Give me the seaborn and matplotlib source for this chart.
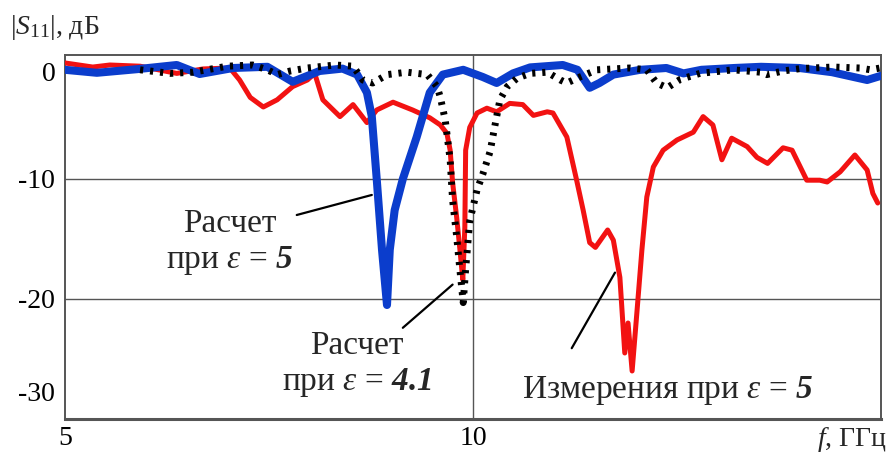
import numpy as np
import pandas as pd
import matplotlib
matplotlib.use("Agg")
import matplotlib.pyplot as plt
import matplotlib.transforms as mtransforms
import seaborn as sns

# ---- data ----
blue_f = [5.0, 5.39, 5.88, 6.37, 6.65, 7.06, 7.48, 7.79, 8.12, 8.40, 8.58, 8.70, 8.76,
          8.82, 8.885, 8.946, 8.98, 9.04, 9.14, 9.31, 9.47, 9.63, 9.88, 10.12, 10.29,
          10.49, 10.70, 11.10, 11.28, 11.43, 11.55, 11.72, 12.05, 12.37, 12.58, 12.80,
          13.20, 13.53, 14.00, 14.40, 14.83, 15.0]
blue_v = [-0.9, -1.15, -0.85, -0.5, -1.25, -0.75, -0.65, -1.9, -1.0, -0.8, -1.3, -2.8, -4.8,
          -10.0, -15.9, -20.5, -15.9, -12.6, -10.0, -6.5, -2.8, -1.3, -0.9, -1.5, -2.0,
          -1.2, -0.7, -0.5, -0.9, -2.4, -2.0, -1.3, -0.9, -0.75, -1.2, -0.9,
          -0.75, -0.65, -0.75, -1.1, -1.75, -1.4]

red_f = [5.0, 5.34, 5.55, 5.92, 6.37, 6.69, 7.02, 7.14, 7.27, 7.43, 7.60, 7.79, 7.97, 8.06,
         8.16, 8.37, 8.53, 8.70, 8.82, 9.02, 9.26, 9.47, 9.60, 9.68, 9.72, 9.75, 9.80,
         9.84, 9.875, 9.90, 9.91, 9.96, 10.05, 10.17, 10.29, 10.45, 10.61, 10.74, 10.91,
         10.98, 11.15, 11.27, 11.35, 11.43, 11.50, 11.65, 11.72, 11.80, 11.86, 11.90,
         11.95, 12.01, 12.07, 12.13, 12.21, 12.33, 12.50, 12.70, 12.82, 12.94, 13.05,
         13.17, 13.36, 13.48, 13.61, 13.80, 13.91, 14.09, 14.25, 14.34, 14.50, 14.68,
         14.83, 14.90, 14.96]
red_v = [-0.33, -0.67, -0.5, -0.6, -1.2, -0.83, -0.75, -1.75, -3.2, -4.0, -3.4, -2.3, -1.75,
         -1.2, -3.4, -4.8, -3.8, -5.3, -4.25, -3.6, -4.25, -4.9, -5.5, -6.2, -7.6, -10.3,
         -13.2, -15.9, -18.4, -14.0, -7.6, -5.7, -4.5, -4.1, -4.4, -3.7, -3.8, -4.7, -4.4,
         -4.5, -6.5, -10.1, -12.6, -15.3, -15.7, -14.25, -15.1, -18.2, -24.5, -22.0,
         -26.0, -21.0, -15.9, -11.5, -9.0, -7.6, -6.75, -6.1, -4.8, -5.5, -8.4,
         -6.6, -7.3, -8.2, -8.7, -7.4, -7.6, -10.1, -10.1, -10.25, -9.4, -8.0,
         -9.25, -11.2, -12.0]

dot_f = [5.92, 6.29, 6.57, 6.99, 7.30, 7.48, 7.60, 7.76, 7.97, 8.31, 8.53, 8.65, 8.77, 8.95,
         9.19, 9.44, 9.56, 9.60, 9.66, 9.72, 9.75, 9.80, 9.84, 9.88, 9.91, 9.96, 10.05,
         10.12, 10.21, 10.27, 10.33, 10.42, 10.54, 10.70, 10.91, 11.07, 11.15, 11.31,
         11.52, 11.92, 12.13, 12.25, 12.38, 12.54, 12.78, 13.19, 13.52, 13.60, 13.80,
         14.01, 14.41, 14.74, 14.87, 14.99]
dot_v = [-0.9, -1.2, -1.1, -0.6, -0.5, -0.9, -1.3, -1.0, -0.75, -0.5, -0.6, -1.75, -2.0, -1.3,
         -1.1, -1.3, -2.3, -3.2, -5.1, -8.4, -11.75, -14.8, -17.6, -20.3, -17.5, -13.5, -10.9,
         -9.6, -7.7, -5.5, -3.4, -2.3, -1.6, -1.2, -1.1, -1.75, -2.0, -1.5,
         -0.9, -0.75, -0.9, -2.0, -2.4, -1.7, -1.2, -0.9, -1.1, -1.3, -1.0,
         -0.8, -0.67, -0.75, -0.9, -0.75]

x_ticks = [5, 10]
x_ticklabels = ["5", "10"]
y_ticks = [0, -10, -20, -30]
y_ticklabels = ["0", "-10", "-20", "-30"]

# ---- style ----
sns.set_style("white")
plt.rcParams["font.family"] = ["Liberation Serif", "DejaVu Serif"]
plt.rcParams["mathtext.fontset"] = "custom"
plt.rcParams["mathtext.rm"] = "Liberation Serif"
plt.rcParams["mathtext.it"] = "Liberation Serif:italic"
plt.rcParams["mathtext.bf"] = "Liberation Serif:bold"
try:
    plt.rcParams["mathtext.bfit"] = "Liberation Serif:italic:bold"
except KeyError:
    pass

W, H = 893, 455
fig = plt.figure(figsize=(W / 100, H / 100), dpi=100)
ax = fig.add_axes([65 / W, (H - 419) / H, (881 - 65) / W, (419 - 55) / H])

df_red = pd.DataFrame({"f": red_f, "v": red_v})
df_blue = pd.DataFrame({"f": blue_f, "v": blue_v})
df_dot = pd.DataFrame({"f": dot_f, "v": dot_v})

sns.lineplot(data=df_red, x="f", y="v", ax=ax, color="#f21212", lw=3.6,
             sort=False, estimator=None, zorder=3)
sns.lineplot(data=df_blue, x="f", y="v", ax=ax, color="#0b3dcc", lw=5.8,
             sort=False, estimator=None, zorder=4)
sns.lineplot(data=df_dot, x="f", y="v", ax=ax, color="black", lw=5.0,
             sort=False, estimator=None, zorder=5, linestyle=(0, (0.45, 1.0)),
             dash_capstyle="butt")

ax.set_xlim(5, 15)
ax.set_ylim(-30, 0.333)
ax.grid(False)
for yv in (-10, -20):
    ax.axhline(yv, color="#555555", lw=1.0, zorder=1)
ax.axvline(10, color="#555555", lw=1.0, zorder=1)

for s in ax.spines.values():
    s.set_color("#555555")
    s.set_linewidth(1.4)
ax.spines["bottom"].set_linewidth(2.2)

ax.set_xticks(x_ticks)
ax.set_xticklabels(x_ticklabels)
ax.set_yticks(y_ticks)
ax.set_yticklabels(y_ticklabels)
ax.tick_params(axis="both", length=0, labelsize=20, colors="black")
ax.tick_params(axis="x", pad=5)
ax.tick_params(axis="y", pad=7)
ax.set_xlabel("")
ax.set_ylabel("")

# annotations
fs = 24
ax.text(7.02, -15.3, "Расчет\nпри $\\varepsilon$ = $\\mathbfit{5}$", ha="center", va="center",
        fontsize=fs, linespacing=1.2, multialignment="center")
ax.plot([7.84, 8.76], [-13.0, -11.33], color="black", lw=1.6, zorder=6)

ax.text(8.58, -25.45, "Расчет\nпри $\\varepsilon$ = $\\mathbfit{4.1}$", ha="center", va="center",
        fontsize=fs, linespacing=1.2, multialignment="center")
ax.plot([9.14, 9.75], [-22.4, -18.8], color="black", lw=1.6, zorder=6)

ax.text(12.39, -27.6, "Измерения при $\\varepsilon$ = $\\mathbfit{5}$", ha="center", va="center",
        fontsize=fs)
ax.plot([11.21, 11.74], [-24.1, -17.8], color="black", lw=1.6, zorder=6)

fig.text(10 / W, 1 - 28 / H, "$|S_{11}|$, дБ", ha="left", va="center", fontsize=20)
fig.text(887 / W, 1 - 440 / H, "$f$, ГГц", ha="right", va="center", fontsize=20)

fig.canvas.draw()
offsets = {0: -0.13, 3: 0.27}
for i, t in enumerate(ax.yaxis.get_major_ticks()):
    if i in offsets:
        t.label1.set_transform(t.label1.get_transform() +
                               mtransforms.ScaledTranslation(0, offsets[i], fig.dpi_scale_trans))

fig.savefig("out.png", dpi=100)
